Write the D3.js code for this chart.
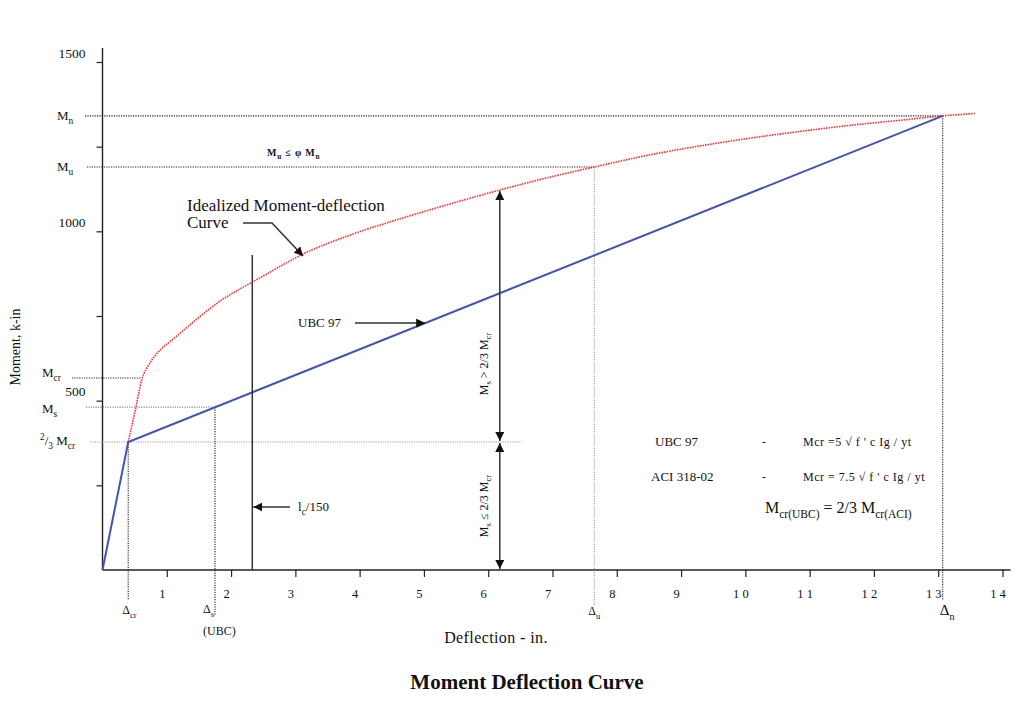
<!DOCTYPE html>
<html>
<head>
<meta charset="utf-8">
<script src="https://cdn.jsdelivr.net/npm/d3@7"></script>
<style>
  body { margin: 0; background: #fff; }
  text { font-family: "Liberation Serif", "Times New Roman", serif; fill: #111; }
</style>
</head>
<body>
<svg id="chart" width="1016" height="721"></svg>
<script>
// ---- data ----
const xTicks = [1, 2, 3, 4, 5, 6, 7, 8, 9, 10, 11, 12, 13, 14];
const xTickLabels = ["1", "2", "3", "4", "5", "6", "7", "8", "9", "1 0", "1 1", "1 2", "1 3", "1 4"];
const yTicks = [250, 500, 750, 1000, 1250, 1500];
const yTickLabels = ["", "500", "", "1000", "", "1500"];

// idealized moment-deflection curve (deflection in., moment k-in)
const idealDefl   = [0.40, 0.51, 0.61, 0.74, 0.90, 1.10, 1.83, 2.50, 3.12, 3.85, 4.63, 5.41, 6.18, 6.96, 7.65, 8.52, 9.29, 10.07, 10.85, 11.63, 12.41, 13.07, 13.57];
const idealMoment = [378, 472, 561, 612, 650, 682, 794, 868, 933, 989, 1037, 1081, 1122, 1160, 1190, 1226, 1252, 1275, 1295, 1313, 1328, 1341, 1348];

// UBC 97 bilinear curve
const ubcDefl   = [0, 0.40, 13.07];
const ubcMoment = [0, 378, 1341];

// characteristic moments
const Mn = 1341, Mu = 1190, Mcr = 567, Ms = 481, Mcr23 = 378;
// characteristic deflections
const dCr = 0.40, dS = 1.75, dU = 7.65, dN = 13.07;
const lOver150 = 2.33, lOver150Top = 930;
const arrowDefl = 6.18;

// ---- scales ----
const svg = d3.select("#chart");
const x = d3.scaleLinear().domain([0, 14]).range([102.5, 1002.5]);
const y = d3.scaleLinear().domain([0, 1500]).range([570, 62]);

// arrowhead marker
const defs = svg.append("defs");
defs.append("marker").attr("id", "tri")
  .attr("viewBox", "0 0 10 10").attr("refX", 10).attr("refY", 5)
  .attr("markerWidth", 9).attr("markerHeight", 9)
  .attr("markerUnits", "userSpaceOnUse")
  .attr("orient", "auto-start-reverse")
  .append("path").attr("d", "M0,0 L10,5 L0,10 z").attr("fill", "#111");

// text with sub/superscripts: parts = [[text, "n"|"sub"|"sup"], ...]
function rich(sel, parts, size) {
  let cur = 0;
  parts.forEach(([t, k]) => {
    const off = k === "sub" ? size * 0.3 : k === "sup" ? -size * 0.4 : 0;
    const fs = k === "n" ? size : size * 0.72;
    sel.append("tspan").attr("dy", off - cur).attr("font-size", fs).text(t);
    cur = off;
  });
  return sel;
}

// ---- axes ----
const xAxis = d3.axisBottom(x).tickValues(xTicks).tickSize(7).tickPadding(12)
  .tickFormat((d, i) => xTickLabels[i]);
const gx = svg.append("g").attr("transform", `translate(0,${y(0)})`).call(xAxis);
gx.select(".domain").remove();
gx.selectAll(".tick line").attr("stroke", "#222").attr("stroke-width", 1.2);
gx.selectAll(".tick text").attr("font-size", 12.5).attr("dx", -5)
  .style("font-family", "Liberation Serif").attr("fill", "#111");

const yAxis = d3.axisLeft(y).tickValues(yTicks).tickSize(6).tickPadding(11)
  .tickFormat((d, i) => yTickLabels[i]);
const gy = svg.append("g").attr("transform", `translate(${x(0)},0)`).call(yAxis);
gy.select(".domain").remove();
gy.selectAll(".tick line").attr("stroke", "#222").attr("stroke-width", 1.2);
gy.selectAll(".tick text").attr("font-size", 13.5).attr("dy", "-0.35em")
  .style("font-family", "Liberation Serif").attr("fill", "#111");

svg.append("line").attr("x1", x(0)).attr("x2", x(14) + 8).attr("y1", y(0)).attr("y2", y(0))
  .attr("stroke", "#222").attr("stroke-width", 1.4);
svg.append("line").attr("x1", x(0)).attr("x2", x(0)).attr("y1", y(0)).attr("y2", y(1541))
  .attr("stroke", "#222").attr("stroke-width", 1.4);

// ---- dotted reference lines ----
function hDot(val, x1, x2, color) {
  svg.append("line").attr("x1", x1).attr("x2", x2).attr("y1", y(val)).attr("y2", y(val))
    .attr("stroke", color).attr("stroke-width", 1.1).attr("stroke-dasharray", "1.2,1.2");
}
function vDot(val, top, bottomPx, color) {
  svg.append("line").attr("x1", x(val)).attr("x2", x(val)).attr("y1", y(top)).attr("y2", bottomPx)
    .attr("stroke", color).attr("stroke-width", 1.1).attr("stroke-dasharray", "1.2,1.2");
}
hDot(Mn, 85, x(dN), "#222");
hDot(Mu, 87, x(dU), "#222");
hDot(Mcr, 72, x(0.61), "#222");
hDot(Ms, 86, x(dS), "#888");
hDot(Mcr23, 90, x(6.5), "#999");
vDot(dCr, Mcr23, 600, "#222");
vDot(dS, Ms, 615, "#222");
vDot(dU, Mu, 605, "#999");
vDot(dN, Mn, 600, "#222");

// ---- curves ----
const idealPts = idealDefl.map((d, i) => [d, idealMoment[i]]);
svg.append("path").datum(idealPts)
  .attr("d", d3.line().x(d => x(d[0])).y(d => y(d[1])).curve(d3.curveMonotoneX))
  .attr("fill", "none").attr("stroke", "#ff3030").attr("stroke-width", 1.6)
  .attr("stroke-dasharray", "1.6,1");

const ubcPts = ubcDefl.map((d, i) => [d, ubcMoment[i]]);
svg.append("path").datum(ubcPts)
  .attr("d", d3.line().x(d => x(d[0])).y(d => y(d[1])))
  .attr("fill", "none").attr("stroke", "#4352b6").attr("stroke-width", 2);

// ---- L/150 line ----
svg.append("line").attr("x1", x(lOver150)).attr("x2", x(lOver150))
  .attr("y1", y(lOver150Top)).attr("y2", y(0)).attr("stroke", "#333").attr("stroke-width", 1.5);
svg.append("line").attr("x1", 290).attr("x2", x(lOver150) + 1).attr("y1", 507).attr("y2", 507)
  .attr("stroke", "#333").attr("stroke-width", 1.5).attr("marker-end", "url(#tri)");
rich(svg.append("text").attr("x", 298).attr("y", 511), [["l", "n"], ["c", "sub"], ["/150", "n"]], 13);

// ---- double arrows for service moment ranges ----
const topVal = idealMoment[idealDefl.indexOf(arrowDefl)];
svg.append("line").attr("x1", x(arrowDefl)).attr("x2", x(arrowDefl))
  .attr("y1", y(topVal) + 1).attr("y2", y(Mcr23) - 1)
  .attr("stroke", "#333").attr("stroke-width", 1.5)
  .attr("marker-start", "url(#tri)").attr("marker-end", "url(#tri)");
svg.append("line").attr("x1", x(arrowDefl)).attr("x2", x(arrowDefl))
  .attr("y1", y(Mcr23) + 1).attr("y2", y(0) - 1)
  .attr("stroke", "#333").attr("stroke-width", 1.5)
  .attr("marker-start", "url(#tri)").attr("marker-end", "url(#tri)");
rich(svg.append("text").attr("text-anchor", "middle")
  .attr("transform", `translate(${x(arrowDefl) - 12},364) rotate(-90)`)
  .attr("fill", "#333"),
  [["M", "n"], ["s", "sub"], [" > 2/3 M", "n"], ["cr", "sub"]], 12);
rich(svg.append("text").attr("text-anchor", "middle")
  .attr("transform", `translate(${x(arrowDefl) - 12},${(y(Mcr23) + y(0)) / 2}) rotate(-90)`)
  .attr("fill", "#333"),
  [["M", "n"], ["s", "sub"], [" ≤ 2/3 M", "n"], ["cr", "sub"]], 12);

// ---- UBC 97 arrow ----
const ubcSlope = (ubcMoment[2] - ubcMoment[1]) / (ubcDefl[2] - ubcDefl[1]);
const ubcTipX = 5.02, ubcTipM = ubcMoment[1] + ubcSlope * (ubcTipX - ubcDefl[1]);
svg.append("line").attr("x1", 355).attr("x2", x(ubcTipX)).attr("y1", y(ubcTipM)).attr("y2", y(ubcTipM))
  .attr("stroke", "#333").attr("stroke-width", 1.5).attr("marker-end", "url(#tri)");
svg.append("text").attr("x", 298).attr("y", y(ubcTipM) + 4).attr("font-size", 13).text("UBC 97");

// ---- idealized curve label and arrow ----
svg.append("text").attr("x", 187).attr("y", 211).attr("font-size", 17).text("Idealized Moment-deflection");
svg.append("text").attr("x", 187).attr("y", 228).attr("font-size", 17).text("Curve");
const tipD = 3.12, tipM = idealMoment[idealDefl.indexOf(tipD)];
svg.append("path")
  .attr("d", `M243,223 L272,223 L${x(tipD)},${y(tipM) + 2}`)
  .attr("fill", "none").attr("stroke", "#333").attr("stroke-width", 1.5)
  .attr("marker-end", "url(#tri)");

// ---- Mu ≤ φ Mn note ----
rich(svg.append("text").attr("x", 267).attr("y", 156).attr("fill", "#333")
  .attr("font-weight", "bold").attr("letter-spacing", 0.8),
  [["M", "n"], ["u", "sub"], [" ≤ φ M", "n"], ["n", "sub"]], 10);

// ---- left level labels ----
rich(svg.append("text").attr("x", 57).attr("y", y(Mn) + 4), [["M", "n"], ["n", "sub"]], 13);
rich(svg.append("text").attr("x", 57).attr("y", y(Mu) + 4), [["M", "n"], ["u", "sub"]], 13);
rich(svg.append("text").attr("x", 42).attr("y", y(Mcr) - 1), [["M", "n"], ["cr", "sub"]], 13);
rich(svg.append("text").attr("x", 42).attr("y", y(Ms) + 6), [["M", "n"], ["s", "sub"]], 13);
rich(svg.append("text").attr("x", 40).attr("y", y(Mcr23) + 3),
  [["2", "sup"], ["/", "n"], ["3", "sub"], [" M", "n"], ["cr", "sub"]], 13);

// ---- bottom deflection labels ----
rich(svg.append("text").attr("x", x(dCr) - 6).attr("y", 614), [["Δ", "n"], ["cr", "sub"]], 12);
rich(svg.append("text").attr("x", x(dS) - 12).attr("y", 613), [["Δ", "n"], ["s", "sub"]], 12);
svg.append("text").attr("x", x(dS) - 12).attr("y", 635).attr("font-size", 12).text("(UBC)");
rich(svg.append("text").attr("x", x(dU) - 6).attr("y", 615), [["Δ", "n"], ["u", "sub"]], 12);
rich(svg.append("text").attr("x", x(dN) - 3).attr("y", 615), [["Δ", "n"], ["n", "sub"]], 15);

// ---- cracking moment notes ----
svg.append("text").attr("x", 655).attr("y", 446).attr("font-size", 13).text("UBC 97");
svg.append("text").attr("x", 762).attr("y", 446).attr("font-size", 12).text("-");
svg.append("text").attr("x", 803).attr("y", 446).attr("font-size", 12).attr("letter-spacing", 0.5)
  .text("Mcr =5 √ f ' c Ig / yt");
svg.append("text").attr("x", 651).attr("y", 481).attr("font-size", 13).text("ACI 318-02");
svg.append("text").attr("x", 762).attr("y", 481).attr("font-size", 12).text("-");
svg.append("text").attr("x", 803).attr("y", 481).attr("font-size", 12).attr("letter-spacing", 0.5)
  .text("Mcr = 7.5 √ f ' c Ig / yt");
rich(svg.append("text").attr("x", 765).attr("y", 513),
  [["M", "n"], ["cr(UBC)", "sub"], [" = 2/3 M", "n"], ["cr(ACI)", "sub"]], 16);

// ---- axis titles ----
svg.append("text").attr("transform", "translate(20,347) rotate(-90)").attr("text-anchor", "middle")
  .attr("font-size", 14).text("Moment, k-in");
svg.append("text").attr("x", 496).attr("y", 643).attr("text-anchor", "middle")
  .attr("font-size", 16).attr("letter-spacing", 0.4).text("Deflection - in.");
svg.append("text").attr("x", 527).attr("y", 689).attr("text-anchor", "middle")
  .attr("font-size", 21).attr("font-weight", "bold").text("Moment Deflection Curve");
</script>
</body>
</html>
